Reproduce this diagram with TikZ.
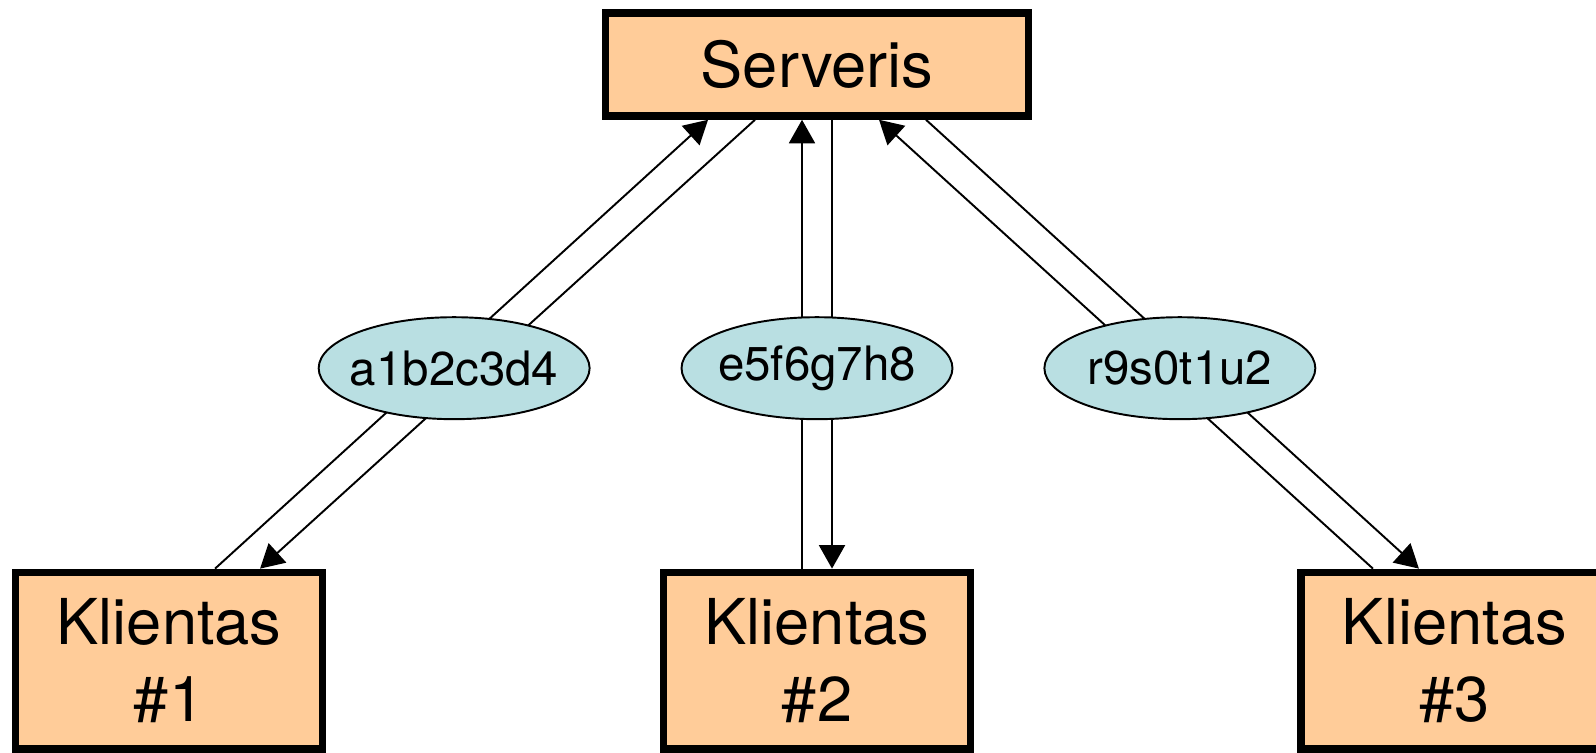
\documentclass[tikz,border=0pt]{standalone}
\usepackage{fontspec}
\setmainfont{TeX Gyre Heros}
\usetikzlibrary{shapes.geometric,arrows.meta,positioning,calc,backgrounds}

\definecolor{boxfill}{HTML}{FFCC99}
\definecolor{tokfill}{HTML}{B9DFE2}

\begin{document}
\begin{tikzpicture}[
  x=0.02cm, y=-0.02cm,
  every node/.style={align=center},
  %% ─── styles ───────────────────────────────────────────
  server/.style={
    draw=black, fill=boxfill, line width=4.3pt,
    minimum width=8.47cm, minimum height=2.06cm,
    font=\fontsize{36}{43.7}\selectfont},
  client/.style={
    draw=black, fill=boxfill, line width=4.3pt,
    minimum width=6.14cm, minimum height=3.53cm,
    font=\fontsize{36}{43.7}\selectfont},
  token/.style={
    draw=black, fill=tokfill, ellipse, line width=1.1pt,
    minimum width=5.42cm, minimum height=2.04cm,
    inner xsep=-4mm, inner ysep=0pt,
    font=\fontsize{27}{32}\selectfont},
  flow/.style={-{Triangle[length=0.47cm, width=0.52cm]}, line width=1.1pt, color=black},
  link/.style={line width=1.1pt, color=black}
]
  \useasboundingbox (0,0) rectangle (1596,752);
  \clip (0,0) rectangle (1596,752);

  %% ════════════════════════════════════════════════════════
  %%  server + tokens + clients
  %% ════════════════════════════════════════════════════════
  \node[server] (srv) at (817,64.5) {Serveris};

  \node[token, below=3.93cm of srv] (tok2) {e5f6g7h8};
  \node[token, left=1.8cm of tok2] (tok1) {a1b2c3d4};
  \node[token, right=1.8cm of tok2] (tok3) {r9s0t1u2};

  \node[client, below=2.97cm of tok2] (kl2) {Klientas\\\#2};
  \node[client, left=6.67cm of kl2] (kl1) {Klientas\\\#1};
  \node[client, right=6.46cm of kl2] (kl3) {Klientas\\\#3};

  %% ════════════════════════════════════════════════════════
  %%  connections (behind the tokens)
  %% ════════════════════════════════════════════════════════
  \begin{scope}[on background layer]
    % client #1
    \draw[flow] ($(kl1.north)+(46,0)$) -- ($(srv.south)+(-109,0)$);
    \draw[flow] ($(srv.south)+(-62,0)$) -- ($(kl1.north)+(91,0)$);

    % client #2
    \draw[flow] ($(kl2.north)+(-15,0)$) -- ($(srv.south)+(-15,0)$);
    \draw[flow] ($(srv.south)+(15,0)$) -- ($(kl2.north)+(15,0)$);

    % client #3
    \draw[flow] ($(kl3.north)+(-81.5,0)$) -- ($(srv.south)+(62,0)$);
    \draw[flow] ($(srv.south)+(109,0)$) -- ($(kl3.north)+(-35.5,0)$);
  \end{scope}

\end{tikzpicture}
\end{document}
